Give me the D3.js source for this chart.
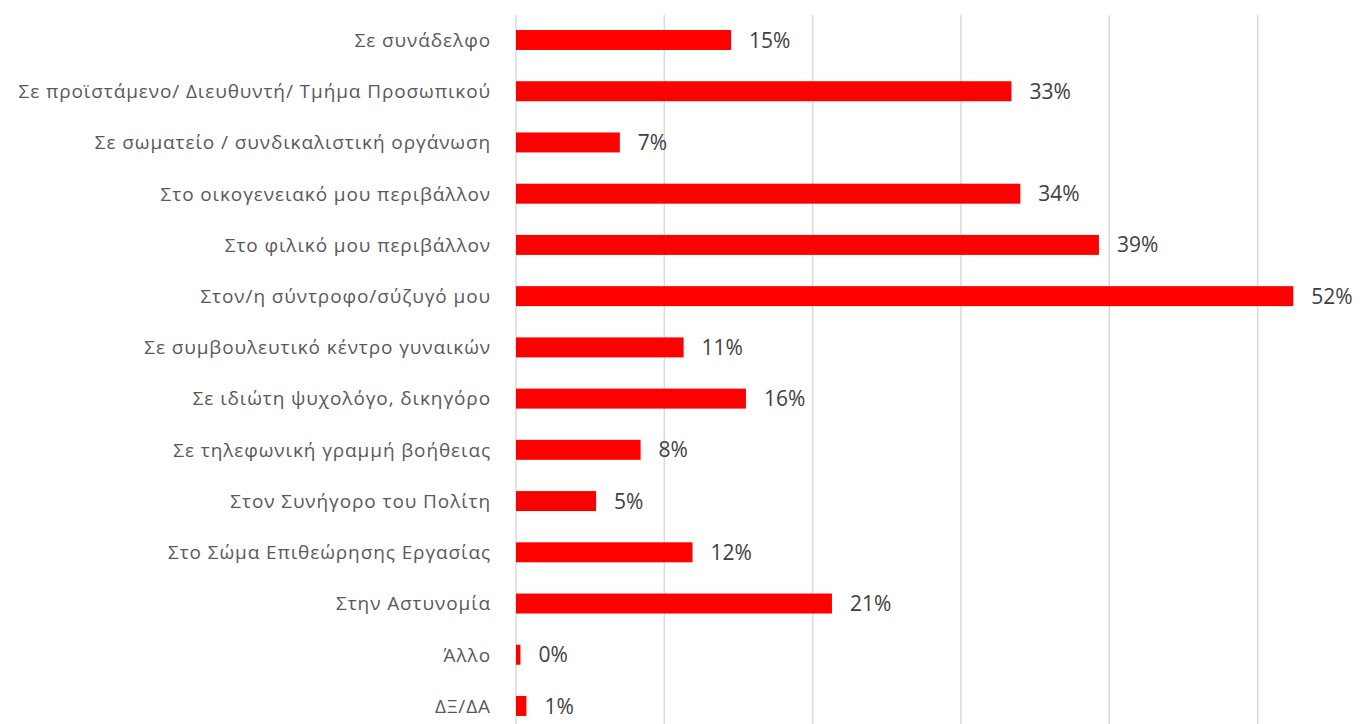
<!DOCTYPE html>
<html>
<head>
<meta charset="utf-8">
<script src="https://cdn.jsdelivr.net/npm/d3@7"></script>
<style>
    body { margin: 0; background: #fff; }
    .cat { font-family: "Open Sans", sans-serif; font-size: 19px; letter-spacing: 0.9px; fill: #595959; }
    .val { font-family: "Open Sans", sans-serif; font-size: 21px; fill: #404040; }
</style>
</head>
<body>
<div class="chart"></div>
<script>
// categories (top to bottom)
var categories = [
    "Σε συνάδελφο",
    "Σε προϊστάμενο/ Διευθυντή/ Τμήμα Προσωπικού",
    "Σε σωματείο / συνδικαλιστική οργάνωση",
    "Στο οικογενειακό μου περιβάλλον",
    "Στο φιλικό μου περιβάλλον",
    "Στον/η σύντροφο/σύζυγό μου",
    "Σε συμβουλευτικό κέντρο γυναικών",
    "Σε ιδιώτη ψυχολόγο, δικηγόρο",
    "Σε τηλεφωνική γραμμή βοήθειας",
    "Στον Συνήγορο του Πολίτη",
    "Στο Σώμα Επιθεώρησης Εργασίας",
    "Στην Αστυνομία",
    "Άλλο",
    "ΔΞ/ΔΑ"
];

// percentages
var values = [14.5, 33.4, 7.0, 34.0, 39.3, 52.4, 11.3, 15.5, 8.4, 5.4, 11.9, 21.3, 0.3, 0.7];

// gridline ticks
var ticks = [0, 10, 20, 30, 40, 50];

var W = 1360, H = 724;

var svg = d3.select(".chart").append("svg")
    .attr("width", W)
    .attr("height", H);

var x = d3.scaleLinear()
    .domain([0, 60])
    .range([516, 1406]);

var step = 51.23;
var y = d3.scaleBand()
    .domain(categories)
    .range([40 - step / 2, 40 + 13 * step + step / 2])
    .paddingInner(0.61)
    .paddingOuter(0.305);

// gridlines
svg.append("g").selectAll("line.grid")
    .data(ticks)
    .enter().append("line")
    .attr("class", "grid")
    .attr("x1", function(d){ return x(d); })
    .attr("x2", function(d){ return x(d); })
    .attr("y1", 15)
    .attr("y2", H)
    .attr("stroke", "#d9d9d9")
    .attr("stroke-width", 1.5);

// bars
svg.append("g").selectAll("rect")
    .data(values)
    .enter().append("rect")
    .attr("x", x(0))
    .attr("y", function(d, i){ return y(categories[i]); })
    .attr("width", function(d){ return x(d) - x(0); })
    .attr("height", y.bandwidth())
    .attr("fill", "#ff0000");

// value labels
svg.append("g").selectAll("text")
    .data(values)
    .enter().append("text")
    .attr("class", "val")
    .attr("x", function(d){ return x(d) + 18; })
    .attr("y", function(d, i){ return y(categories[i]) + y.bandwidth() / 2; })
    .attr("dy", "0.36em")
    .text(function(d){ return Math.round(d) + "%"; });

// category labels
svg.append("g").selectAll("text")
    .data(categories)
    .enter().append("text")
    .attr("class", "cat")
    .attr("x", 491)
    .attr("y", function(d){ return y(d) + y.bandwidth() / 2; })
    .attr("dy", "0.36em")
    .attr("text-anchor", "end")
    .text(function(d){ return d; });
</script>
</body>
</html>
